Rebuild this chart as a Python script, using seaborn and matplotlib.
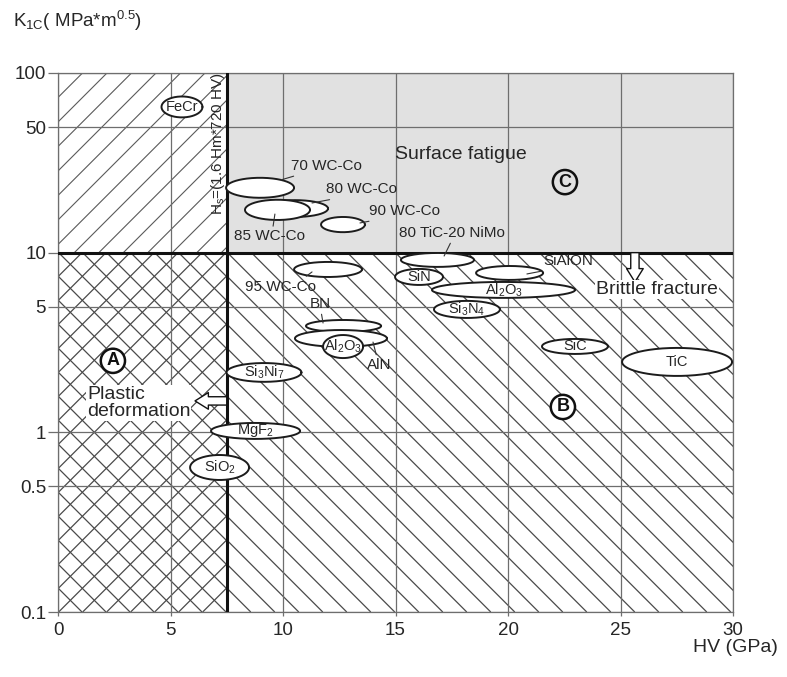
import numpy as np
import matplotlib
matplotlib.use("Agg")
import matplotlib.pyplot as plt
import seaborn as sns
from matplotlib.collections import LineCollection
from matplotlib.patches import Rectangle
from matplotlib.path import Path
from matplotlib.ticker import FixedLocator, FixedFormatter, NullLocator

# Material property ranges: Vickers hardness HV (GPa) and fracture toughness K1C (MPa*m^0.5)
materials = ["FeCr", "70 WC-Co", "80 WC-Co", "85 WC-Co", "90 WC-Co", "80 TiC-20 NiMo",
             "95 WC-Co", "SiAlON", "Al2O3 (a)", "SiN", "Si3N4", "SiC", "TiC", "BN", "AlN",
             "Al2O3 (b)", "Si3Ni7", "MgF2", "SiO2"]
labels = ["FeCr", "70 WC-Co", "80 WC-Co", "85 WC-Co", "90 WC-Co", "80 TiC-20 NiMo",
          "95 WC-Co", "SiAlON", r"Al$_\mathregular{2}$O$_\mathregular{3}$", "SiN",
          r"Si$_\mathregular{3}$N$_\mathregular{4}$", "SiC", "TiC", "BN", "AlN",
          r"Al$_\mathregular{2}$O$_\mathregular{3}$", r"Si$_\mathregular{3}$Ni$_\mathregular{7}$",
          r"MgF$_\mathregular{2}$", r"SiO$_\mathregular{2}$"]
hv_lo = [4.60, 7.47, 9.07, 8.31, 11.69, 15.24, 10.49, 18.58, 16.62, 14.98, 16.71, 21.51, 25.07,
         11.02, 10.53, 11.78, 7.49, 6.80, 5.87]
hv_hi = [6.42, 10.49, 12.00, 11.20, 13.64, 18.49, 13.51, 21.56, 22.98, 17.11, 19.64, 24.44, 29.96,
         14.36, 14.62, 13.56, 10.82, 10.76, 8.49]
k_lo = [56.6, 20.2, 15.8, 15.2, 13.0, 8.33, 7.32, 7.05, 5.60, 6.61, 4.33, 2.73, 2.06,
        3.62, 2.99, 2.59, 1.91, 0.919, 0.543]
k_hi = [74.0, 26.1, 19.6, 19.7, 15.8, 9.96, 8.88, 8.43, 6.87, 8.12, 5.39, 3.31, 2.95,
        4.22, 3.71, 3.48, 2.43, 1.128, 0.748]

# Callout labels: text anchor and leader target (HV, K1C), plus leader attachment on text box
callouts = {
    "70 WC-Co": ((11.91, 30.4), (9.91, 25.4), (0.2, 0.0)),
    "80 WC-Co": ((13.47, 22.5), (11.29, 18.9), (0.3, 0.0)),
    "85 WC-Co": ((9.38, 12.31), (9.64, 16.4), (0.55, 1.0)),
    "90 WC-Co": ((15.38, 17.06), (13.42, 14.63), (0.25, 0.0)),
    "80 TiC-20 NiMo": ((17.51, 12.87), (17.16, 9.58), (0.5, 0.0)),
    "95 WC-Co": ((9.89, 6.48), (11.29, 7.81), (0.8, 1.0)),
    "SiAlON": ((22.67, 8.99), (20.84, 7.61), (0.3, 0.0)),
    "BN": ((11.64, 5.18), (11.78, 4.06), (0.55, 0.0)),
    "AlN": ((14.29, 2.37), (14.0, 3.18), (0.4, 1.0)),
}

x_ticks = [0, 5, 10, 15, 20, 25, 30]
y_ticks = [0.1, 0.5, 1, 5, 10, 50, 100]
y_tick_labels = ["0.1", "0.5", "1", "5", "10", "50", "100"]
hv_limit = 7.5     # HV threshold between plastic deformation and brittle behaviour
k_limit = 10       # K1C threshold between surface fatigue and brittle fracture

sns.set_theme(style="white")
plt.rcParams["font.family"] = ["Liberation Sans", "DejaVu Sans"]
plt.rcParams["mathtext.fontset"] = "custom"
plt.rcParams["mathtext.rm"] = "Liberation Sans"
plt.rcParams["mathtext.it"] = "Liberation Sans:italic"
plt.rcParams["mathtext.bf"] = "Liberation Sans:bold"

TXT = "#262626"
GRID = "#6e6e6e"

fig = plt.figure(figsize=(7.87, 6.77), dpi=100)
fig.patch.set_facecolor("white")
ax = fig.add_axes([0.0737, 0.0960, 0.8577, 0.7962])
ax.set_facecolor("white")
ax.set_xlim(0, 30)
ax.set_yscale("log")
ax.set_ylim(0.1, 100)
ax.autoscale(False)

# shaded surface-fatigue zone
ax.add_patch(Rectangle((hv_limit, k_limit), 30 - hv_limit, 100 - k_limit,
                       facecolor="#e1e1e1", edgecolor="none", zorder=0.2))


def hatch_zone(x0, x1, y0, y1, slopes, step_px, color, lw):
    (px0, py0) = ax.transData.transform((x0, y0))
    (px1, py1) = ax.transData.transform((x1, y1))
    h = py1 - py0
    segs = []
    for s in slopes:
        for c in np.arange(px0 - h - step_px, px1 + step_px, step_px):
            if s > 0:
                segs.append([(c, py0), (c + h, py1)])
            else:
                segs.append([(c, py1), (c + h, py0)])
    segs = np.array(segs) / fig.dpi
    lc = LineCollection(segs, colors=color, linewidths=lw,
                        transform=fig.dpi_scale_trans, zorder=0.6)
    ax.add_collection(lc)
    box = Path([(x0, y0), (x1, y0), (x1, y1), (x0, y1), (x0, y0)], closed=True)
    lc.set_clip_path(box, ax.transData)


hatch_zone(0, hv_limit, k_limit, 100, [1], 24.5, "#5a5a5a", 0.8)
hatch_zone(0, hv_limit, 0.1, k_limit, [1, -1], 24, "#4a4a4a", 0.9)
hatch_zone(hv_limit, 30, 0.1, k_limit, [-1], 24, "#4a4a4a", 0.9)

# grid and axes
ax.set_axisbelow("line")
ax.xaxis.set_major_locator(FixedLocator(x_ticks))
ax.yaxis.set_major_locator(FixedLocator(y_ticks))
ax.yaxis.set_major_formatter(FixedFormatter(y_tick_labels))
ax.yaxis.set_minor_locator(NullLocator())
ax.grid(True, color=GRID, lw=0.9)
for sp in ax.spines.values():
    sp.set_color(GRID)
    sp.set_linewidth(0.9)
ax.tick_params(axis="y", left=True, length=7, width=0.9, color=GRID, pad=1.5,
               labelsize=13.5, labelcolor=TXT)
ax.tick_params(axis="x", bottom=True, length=3, width=0.9, color=GRID, pad=4,
               labelsize=13.5, labelcolor=TXT)

# regime boundaries
ax.axvline(hv_limit, color="#111111", lw=2.2, zorder=2.6)
ax.axhline(k_limit, color="#111111", lw=2.2, zorder=2.6)

# material ellipses
t = np.linspace(0, 2 * np.pi, 240)
for i, name in enumerate(materials):
    xc = (hv_lo[i] + hv_hi[i]) / 2
    a = (hv_hi[i] - hv_lo[i]) / 2
    lc_ = (np.log10(k_lo[i]) + np.log10(k_hi[i])) / 2
    b = (np.log10(k_hi[i]) - np.log10(k_lo[i])) / 2
    xs = xc + a * np.cos(t)
    ys = 10 ** (lc_ + b * np.sin(t))
    z = 3 + i * 0.02
    ax.fill(xs, ys, facecolor="white", edgecolor="none", zorder=z)
    sns.lineplot(x=xs, y=ys, sort=False, estimator=None, color="#1c1c1c", lw=1.4,
                 ax=ax, zorder=z + 0.01, legend=False)
    if name in callouts:
        (tx, ty), (mx, my), rel = callouts[name]
        ax.annotate(labels[i], xy=(mx, my), xytext=(tx, ty), ha="center", va="center",
                    fontsize=11, color=TXT, zorder=10,
                    arrowprops=dict(arrowstyle="-", color="#333333", lw=0.8,
                                    shrinkA=0, shrinkB=0, relpos=rel))
    else:
        ax.text(xc, 10 ** lc_, labels[i], ha="center", va="center", fontsize=10.5,
                color=TXT, zorder=10)

ax.set_xlabel("")
ax.set_ylabel("")
ax.set_xlim(0, 30)
ax.set_ylim(0.1, 100)

# regime annotations
ax.text(14.98, 35.0, "Surface fatigue", fontsize=14, color=TXT, ha="left", va="center", zorder=10)
ax.text(23.91, 6.2, "Brittle fracture", fontsize=14, color=TXT, ha="left", va="center", zorder=10,
        bbox=dict(boxstyle="square,pad=0.05", fc="white", ec="none"))
ax.text(1.29, 1.457, "Plastic\ndeformation", fontsize=14, color=TXT, ha="left", va="center",
        linespacing=1.0, zorder=10, bbox=dict(boxstyle="square,pad=0.05", fc="white", ec="none"))
for letter, (lx, ly), fc in [("A", (2.44, 2.50), "white"), ("B", (22.44, 1.384), "white"),
                             ("C", (22.53, 24.7), "none")]:
    ax.text(lx, ly, letter, fontsize=13, fontweight="bold", color="#111111", ha="center",
            va="center", zorder=11,
            bbox=dict(boxstyle="circle,pad=0.2", fc=fc, ec="#111111", lw=1.8))

ax.text(7.13, 40.5, r"H$_\mathregular{s}$=(1.6 Hm*720 HV)", rotation=90, fontsize=11,
        color=TXT, ha="center", va="center", zorder=10)

arrow_style = "simple,head_length=0.8,head_width=1.0,tail_width=0.5"
ax.annotate("", xy=(25.64, 6.87), xytext=(25.64, k_limit), zorder=9,
            arrowprops=dict(arrowstyle=arrow_style, fc="white", ec="#111111", lw=1.0,
                            mutation_scale=12, shrinkA=0, shrinkB=0))
ax.annotate("", xy=(6.09, 1.496), xytext=(hv_limit, 1.496), zorder=9,
            arrowprops=dict(arrowstyle=arrow_style, fc="white", ec="#111111", lw=1.0,
                            mutation_scale=12, shrinkA=0, shrinkB=0))

fig.text(0.016, 1 - 20.5 / 677, r"K$_\mathregular{1C}$( MPa*m$^\mathregular{0.5}$)",
         fontsize=13.5, color=TXT, ha="left", va="center")
fig.text(778 / 787, 1 - 648 / 677, "HV (GPa)", fontsize=14, color=TXT, ha="right", va="center")

fig.savefig("out.png", dpi=100, facecolor="white")
